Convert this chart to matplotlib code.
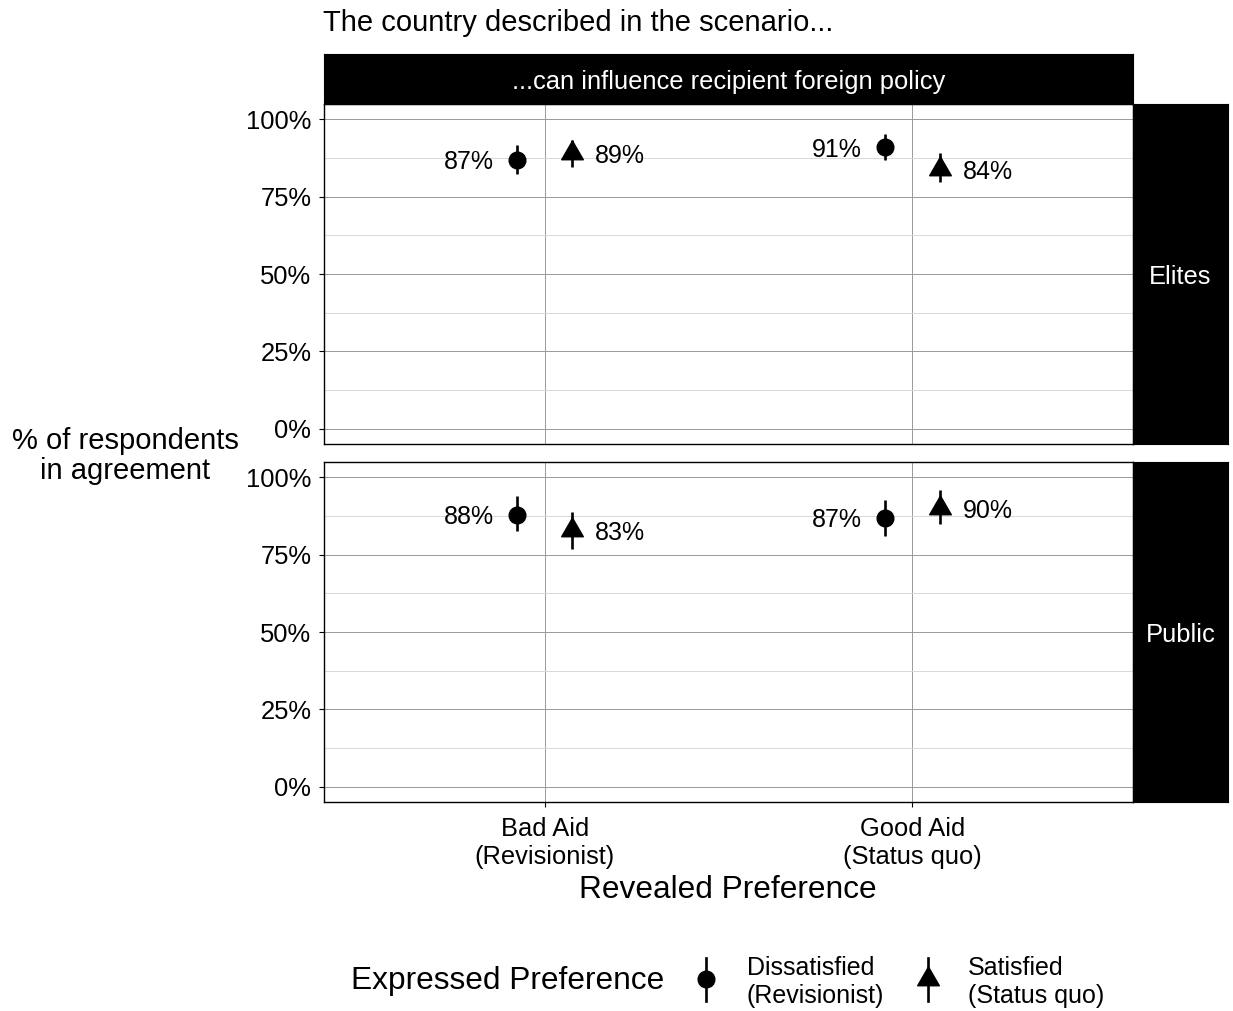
import matplotlib
matplotlib.use("Agg")
import matplotlib.pyplot as plt
from matplotlib.path import Path
from matplotlib.ticker import FixedLocator, FuncFormatter

plt.rcParams["font.family"] = ["Liberation Sans", "DejaVu Sans"]

# ---- data -------------------------------------------------------------
categories = ["Bad Aid\n(Revisionist)", "Good Aid\n(Status quo)"]
panels = ["Elites", "Public"]
series = ["Dissatisfied\n(Revisionist)", "Satisfied\n(Status quo)"]

# estimates and confidence bounds (percent), per panel, per category
elites_dissat = [87, 91]
elites_dissat_lo = [82.5, 86.8]
elites_dissat_hi = [91.6, 95.2]
elites_sat = [89, 84]
elites_sat_lo = [84.7, 79.8]
elites_sat_hi = [93.5, 89.0]

public_dissat = [88, 87]
public_dissat_lo = [82.7, 81.1]
public_dissat_hi = [94.0, 92.7]
public_sat = [83, 90]
public_sat_lo = [76.8, 84.9]
public_sat_hi = [88.8, 96.1]

panel_data = {
    "Elites": [(elites_dissat, elites_dissat_lo, elites_dissat_hi),
               (elites_sat, elites_sat_lo, elites_sat_hi)],
    "Public": [(public_dissat, public_dissat_lo, public_dissat_hi),
               (public_sat, public_sat_lo, public_sat_hi)],
}

y_ticks = [0, 25, 50, 75, 100]
y_minor = [12.5, 37.5, 62.5, 87.5]

# ---- styling ----------------------------------------------------------
W, H = 1233, 1011
DPI = 100
fig = plt.figure(figsize=(W / DPI, H / DPI), dpi=DPI)

# equilateral triangle marker
tri = Path([(-1.0, -0.577), (1.0, -0.577), (0.0, 1.155), (-1.0, -0.577)],
           [Path.MOVETO, Path.LINETO, Path.LINETO, Path.CLOSEPOLY])
markers = ["o", tri]
msizes = [12, 18]
dodge = [-0.075, 0.075]
label_side = [-1, 1]

TICK_FS = 18.4
LABEL_FS = 18
TITLE_FS = 22.8


def fx(px):
    return px / W


def fy(py):
    return 1 - py / H


# overlay axes in pixel coordinates for free-standing text and legend
over = fig.add_axes([0, 0, 1, 1], zorder=-1)
over.set_xlim(0, W)
over.set_ylim(H, 0)
over.axis("off")

panel_left, panel_right = 324, 1133
panel_tops = [104, 462]
panel_h = 340
strip_right = 1228

axes = []
for i, name in enumerate(panels):
    top = panel_tops[i]
    ax = fig.add_axes([fx(panel_left), fy(top + panel_h),
                       fx(panel_right - panel_left), panel_h / H])
    axes.append(ax)
    ax.set_xlim(0.4, 2.6)
    ax.set_ylim(-5, 105)
    ax.yaxis.set_major_locator(FixedLocator(y_ticks))
    ax.yaxis.set_minor_locator(FixedLocator(y_minor))
    ax.yaxis.set_major_formatter(FuncFormatter(lambda v, p: f"{v:.0f}%"))
    ax.set_xticks([1, 2])
    ax.grid(which="major", color="#9a9a9a", linewidth=0.7, zorder=0)
    ax.grid(which="minor", axis="y", color="#d8d8d8", linewidth=0.7, zorder=0)
    ax.set_axisbelow(True)
    for s in ax.spines.values():
        s.set_color("black")
        s.set_linewidth(1.0)
    ax.tick_params(axis="y", which="major", length=3.6, width=0.8,
                   color="black", labelsize=TICK_FS, pad=5.5)
    ax.tick_params(axis="x", which="major", length=3.6, width=0.8,
                   color="black", labelsize=TICK_FS, pad=7)
    ax.tick_params(axis="y", which="minor", length=0)
    if i == 0:
        ax.set_xticklabels([])
        ax.tick_params(axis="x", length=0)
    else:
        ax.set_xticklabels(categories, linespacing=1.25)

    xs = [1, 2]
    for k, (est, lo, hi) in enumerate(panel_data[name]):
        xp = [x + dodge[k] for x in xs]
        ax.vlines(xp, lo, hi, color="black", linewidth=1.9, zorder=3)
        ax.plot(xp, est, linestyle="none", marker=markers[k],
                markersize=msizes[k], color="black", zorder=4)
        for x, v in zip(xp, est):
            ax.annotate(f"{v}%", (x, v), xytext=(label_side[k] * 16.5, -2),
                        textcoords="offset points",
                        ha="right" if label_side[k] < 0 else "left",
                        va="center", fontsize=LABEL_FS)

    # right-hand facet strip
    sax = fig.add_axes([fx(panel_right), fy(top + panel_h),
                        fx(strip_right - panel_right), panel_h / H])
    sax.set_facecolor("black")
    sax.set_xticks([])
    sax.set_yticks([])
    for s in sax.spines.values():
        s.set_color("black")
    sax.text(0.5, 0.49, name, color="white", fontsize=TICK_FS,
             ha="center", va="center", transform=sax.transAxes)

# top facet strip
tax = fig.add_axes([fx(panel_left), fy(104), fx(panel_right - panel_left), 50 / H])
tax.set_facecolor("black")
tax.set_xticks([])
tax.set_yticks([])
for s in tax.spines.values():
    s.set_color("black")
tax.text(0.5, 0.44, "...can influence recipient foreign policy", color="white",
         fontsize=TICK_FS, ha="center", va="center", transform=tax.transAxes)

# titles
over.text(323, 23, "The country described in the scenario...", fontsize=21,
          ha="left", va="center")
over.text(125, 456, "% of respondents\nin agreement", fontsize=21,
          ha="center", va="center", linespacing=1.12)
over.text(728, 890, "Revealed Preference", fontsize=TITLE_FS,
          ha="center", va="center")

# legend
over.text(351, 981, "Expressed Preference", fontsize=TITLE_FS,
          ha="left", va="center")
key_x = [706, 928]
lab_x = [747, 968]
for k in range(2):
    over.plot([key_x[k], key_x[k]], [958, 1001], color="black", linewidth=1.9)
    over.plot([key_x[k]], [979], marker=markers[k], markersize=msizes[k],
              color="black", linestyle="none")
    over.text(lab_x[k], 982, series[k], fontsize=LABEL_FS, ha="left",
              va="center", linespacing=1.25)

fig.savefig("out.png", dpi=DPI)
